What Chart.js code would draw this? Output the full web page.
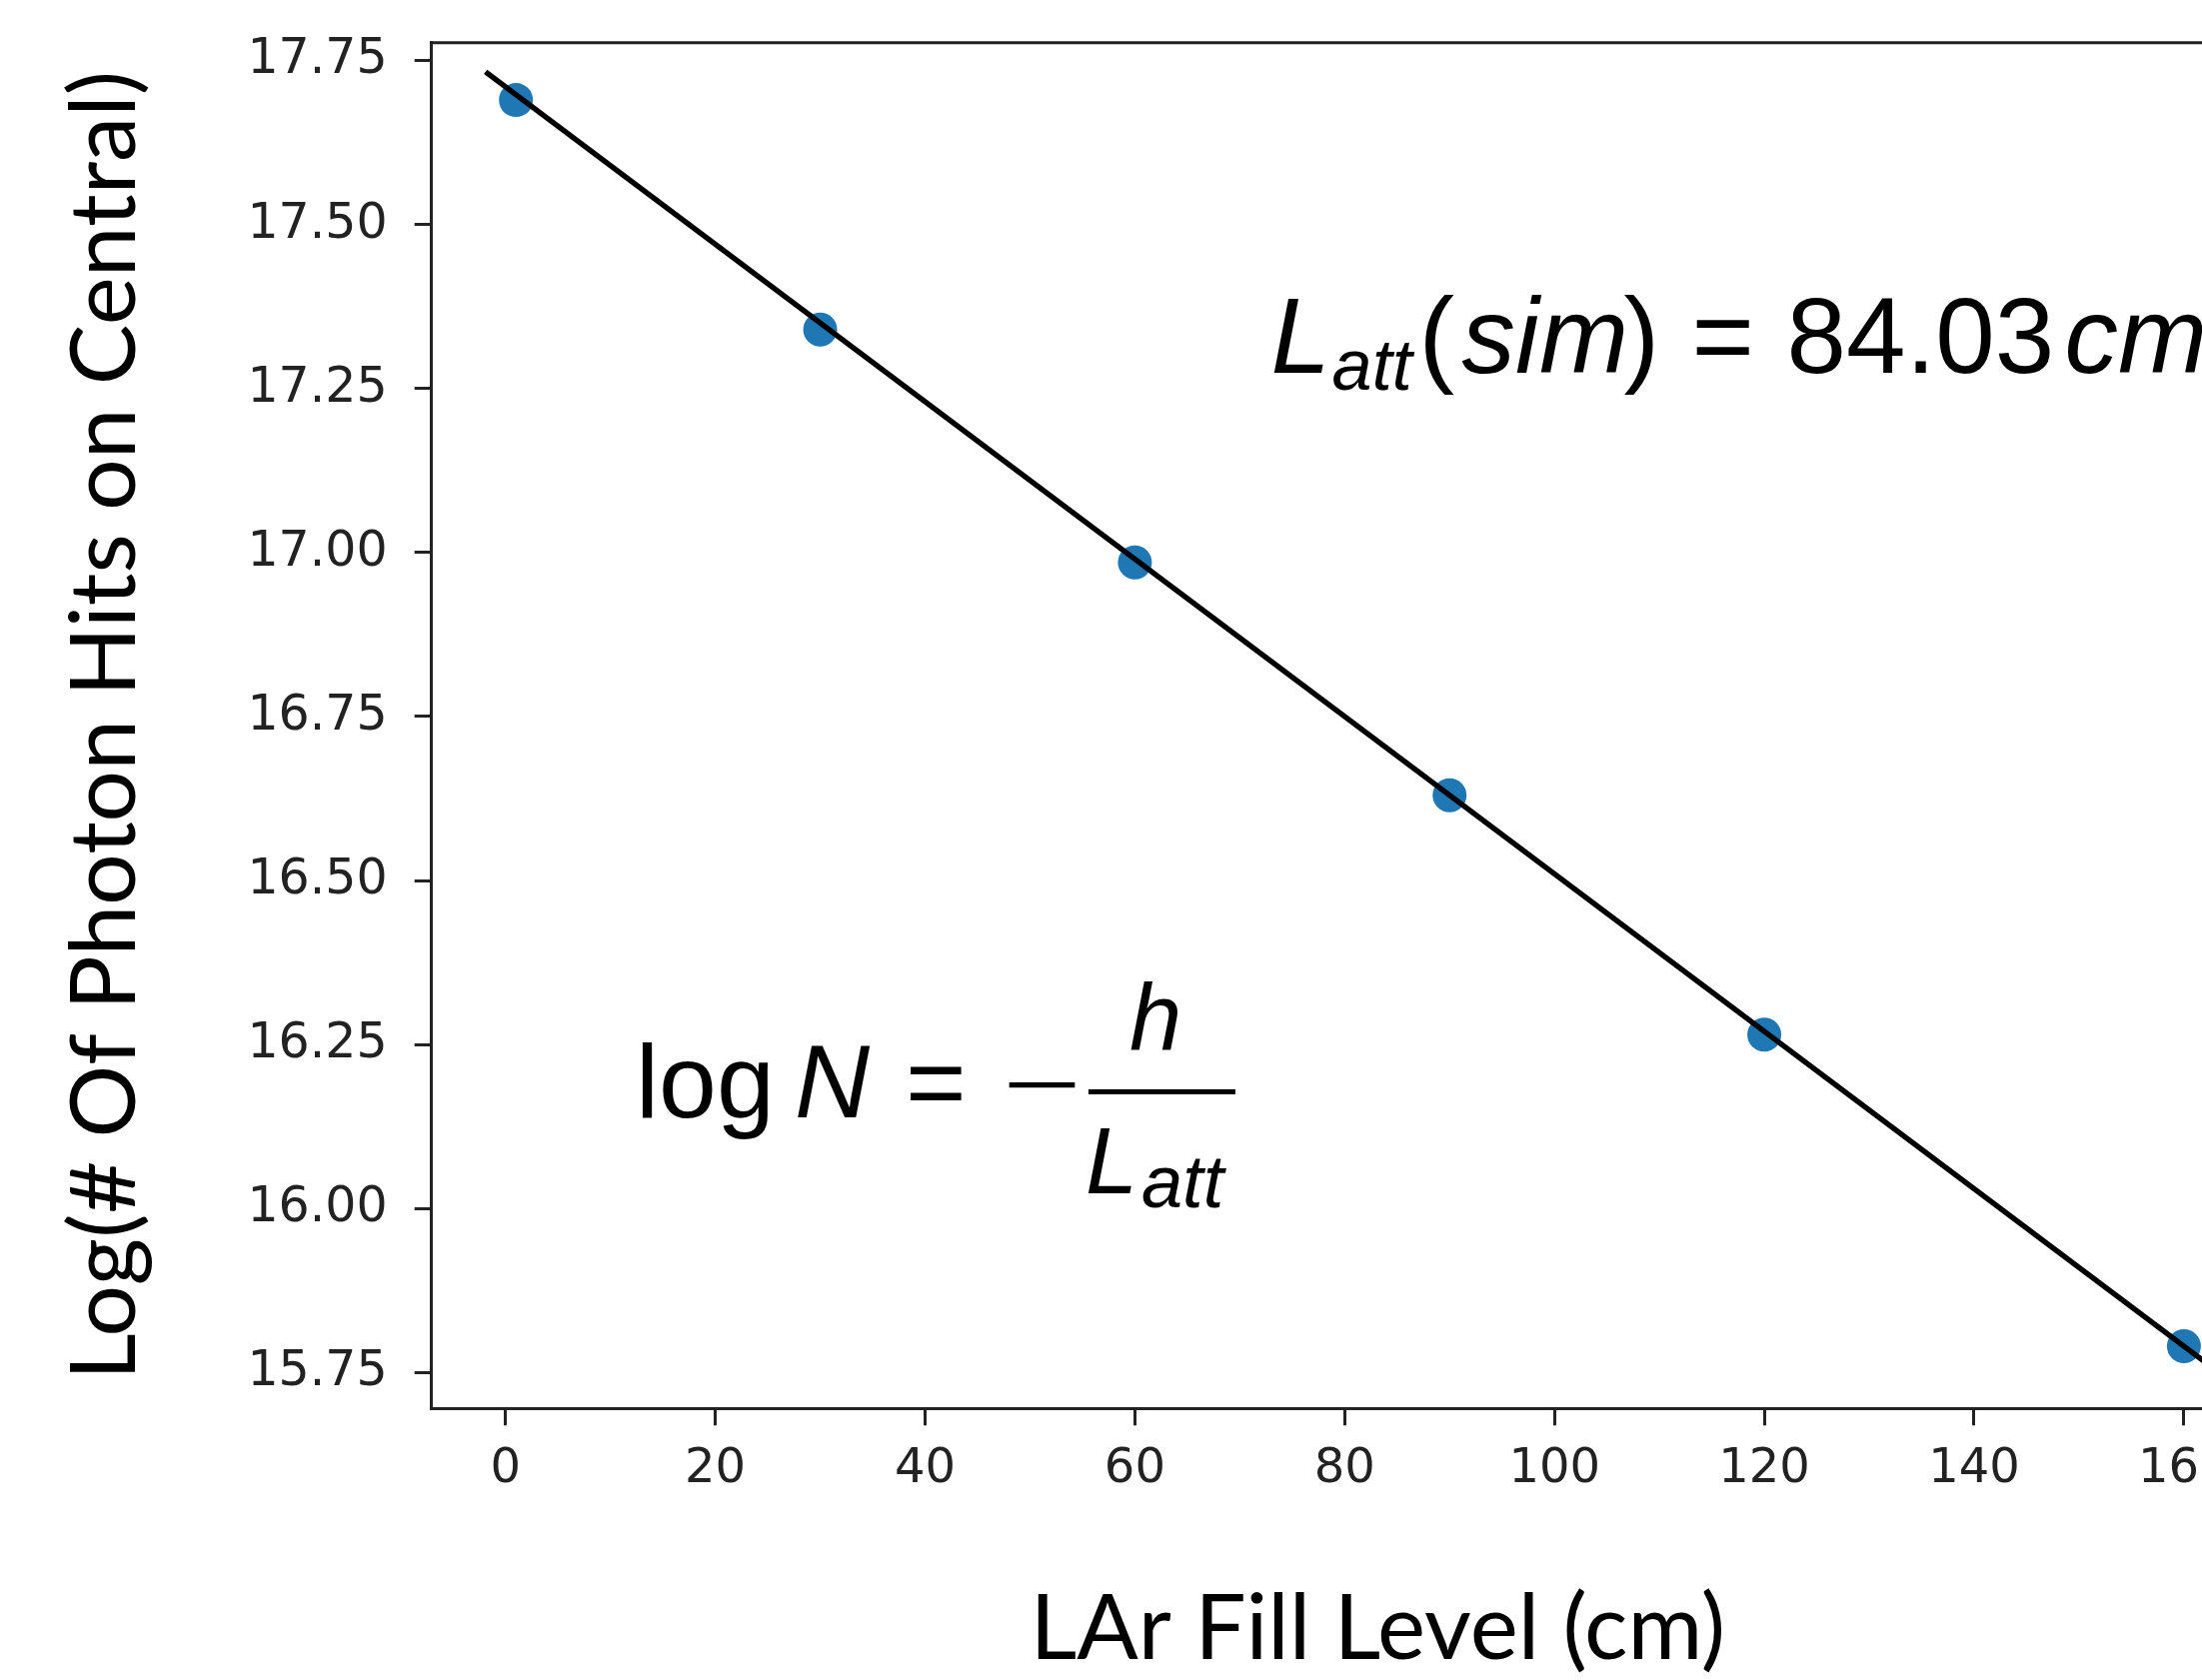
<!DOCTYPE html>
<html><head><meta charset="utf-8">
<script src="https://cdn.jsdelivr.net/npm/chart.js@4.4.1/dist/chart.umd.min.js"></script>
<style>
html,body{margin:0;padding:0;background:#fff;overflow:hidden;width:2203px;height:1681px}
#wrap{position:absolute;left:0;top:0;width:2345px;height:1681px}
</style></head>
<body><div id="wrap"><canvas id="c" width="2345" height="1681"></canvas></div>
<script>
// ---- data ----
const fillLevels = [1, 30, 60, 90, 120, 160];
const logHits = [17.69, 17.34, 16.985, 16.63, 16.265, 15.79];
const fitX = [-1.9, 165];
const fitY = [17.733, 15.73];
const xTicks = [0, 20, 40, 60, 80, 100, 120, 140, 160];
const yTicks = [15.75, 16.00, 16.25, 16.50, 16.75, 17.00, 17.25, 17.50, 17.75];
const xTitle = 'LAr Fill Level (cm)';
const yTitle = 'Log(# Of Photon Hits on Central)';
const lattText = ['L', 'att', '(', 'sim', ')', '=', '84.03', 'cm'];
const formulaText = ['log', 'N', '=', '\u2212', 'h', 'L', 'att'];

const AX = '#222222';
const MATH = 'Liberation Sans, Arial, sans-serif';

const framePlugin = {
  id: 'frame',
  afterDraw(chart) {
    const {ctx, chartArea: a} = chart;
    ctx.save();
    ctx.strokeStyle = AX; ctx.lineWidth = 3;
    ctx.beginPath();
    ctx.moveTo(a.left, a.top); ctx.lineTo(a.right, a.top); ctx.lineTo(a.right, a.bottom);
    ctx.stroke();
    ctx.restore();
  }
};

function txt(ctx, s, x, y, size, italic, sx) {
  ctx.font = (italic ? 'italic ' : '') + size + 'px ' + MATH;
  if (sx) {
    ctx.save(); ctx.translate(x, y); ctx.scale(sx, 0.7); ctx.fillText(s, 0, 0); ctx.restore();
  } else ctx.fillText(s, x, y);
}

const formulaPlugin = {
  id: 'formulas',
  afterDatasetsDraw(chart) {
    const {ctx, scales: {x, y}} = chart;
    ctx.save();
    ctx.fillStyle = '#000';
    ctx.textBaseline = 'alphabetic';
    ctx.textAlign = 'left';
    // L_att(sim) = 84.03cm
    const x1 = x.getPixelForValue(72.98), y1 = y.getPixelForValue(17.2742);
    txt(ctx, lattText[0], x1, y1, 107, true);
    txt(ctx, lattText[1], x1 + 61, y1 + 17, 72, true);
    txt(ctx, lattText[2], x1 + 148, y1, 107, false);
    txt(ctx, lattText[3], x1 + 191, y1, 107, true);
    txt(ctx, lattText[4], x1 + 353, y1, 107, false);
    txt(ctx, lattText[5], x1 + 421, y1, 107, false);
    txt(ctx, lattText[6], x1 + 516, y1, 107, false);
    txt(ctx, lattText[7], x1 + 794, y1, 107, true);
    // log N = - h / L_att
    const x2 = x.getPixelForValue(12.41), y2 = y.getPixelForValue(16.139);
    txt(ctx, formulaText[0], x2, y2, 104, false);
    txt(ctx, formulaText[1], x2 + 159, y2, 104, true);
    txt(ctx, formulaText[2], x2 + 270, y2, 104, false);
    txt(ctx, formulaText[3], x2 + 367, y2 - 8, 104, false, 1.3);
    ctx.fillRect(x2 + 453, y2 - 28, 147, 5);
    txt(ctx, formulaText[4], x2 + 494, y2 - 67, 94, true);
    txt(ctx, formulaText[5], x2 + 450, y2 + 76, 94, true);
    txt(ctx, formulaText[6], x2 + 506, y2 + 90, 74, true);
    ctx.restore();
  }
};

new Chart(document.getElementById('c'), {
  type: 'scatter',
  data: {
    datasets: [
      {
        label: 'fit',
        data: fitX.map((v, i) => ({x: v, y: fitY[i]})),
        showLine: true,
        borderColor: '#000',
        borderWidth: 5.5,
        pointRadius: 0,
        order: 0
      },
      {
        label: 'sim',
        data: fillLevels.map((v, i) => ({x: v, y: logHits[i]})),
        backgroundColor: '#1f77b4',
        borderColor: '#1f77b4',
        borderWidth: 0,
        pointRadius: 17,
        order: 1
      }
    ]
  },
  options: {
    responsive: false,
    animation: false,
    devicePixelRatio: 1,
    layout: {padding: {left: 0, top: 42.7, right: 20, bottom: 0}},
    plugins: {legend: {display: false}, tooltip: {enabled: false}},
    scales: {
      x: {
        type: 'linear', min: -7.05, max: 173.35,
        afterBuildTicks: s => { s.ticks = xTicks.map(v => ({value: v})); },
        afterFit: s => { s.height = 271.7; s.paddingLeft = 0; s.paddingRight = 0; },
        ticks: {font: {family: 'DejaVu Sans', size: 48}, color: AX, padding: 15, maxRotation: 0, autoSkip: false,
                callback: v => String(v)},
        grid: {drawOnChartArea: false, drawTicks: true, tickLength: 17, tickWidth: 3, tickColor: AX},
        border: {display: true, color: AX, width: 3},
        title: {display: true, text: xTitle, color: '#000',
                font: {family: 'Lato', size: 91, lineHeight: 1}, padding: {top: 0, bottom: 5}}
      },
      y: {
        type: 'linear', min: 15.695, max: 17.7775,
        afterBuildTicks: s => { s.ticks = yTicks.map(v => ({value: v})); },
        afterFit: s => { s.width = 431.7; s.paddingTop = 0; s.paddingBottom = 0; },
        ticks: {font: {family: 'DejaVu Sans', size: 49}, color: AX, padding: 27, autoSkip: false,
                callback: v => v.toFixed(2)},
        grid: {drawOnChartArea: false, drawTicks: true, tickLength: 17, tickWidth: 3, tickColor: AX},
        border: {display: true, color: AX, width: 3},
        title: {display: true, text: yTitle, color: '#000',
                font: {family: 'Lato', size: 91, lineHeight: 1}, padding: {top: 60, bottom: 0}}
      }
    }
  },
  plugins: [framePlugin, formulaPlugin]
});
</script>
</body></html>
